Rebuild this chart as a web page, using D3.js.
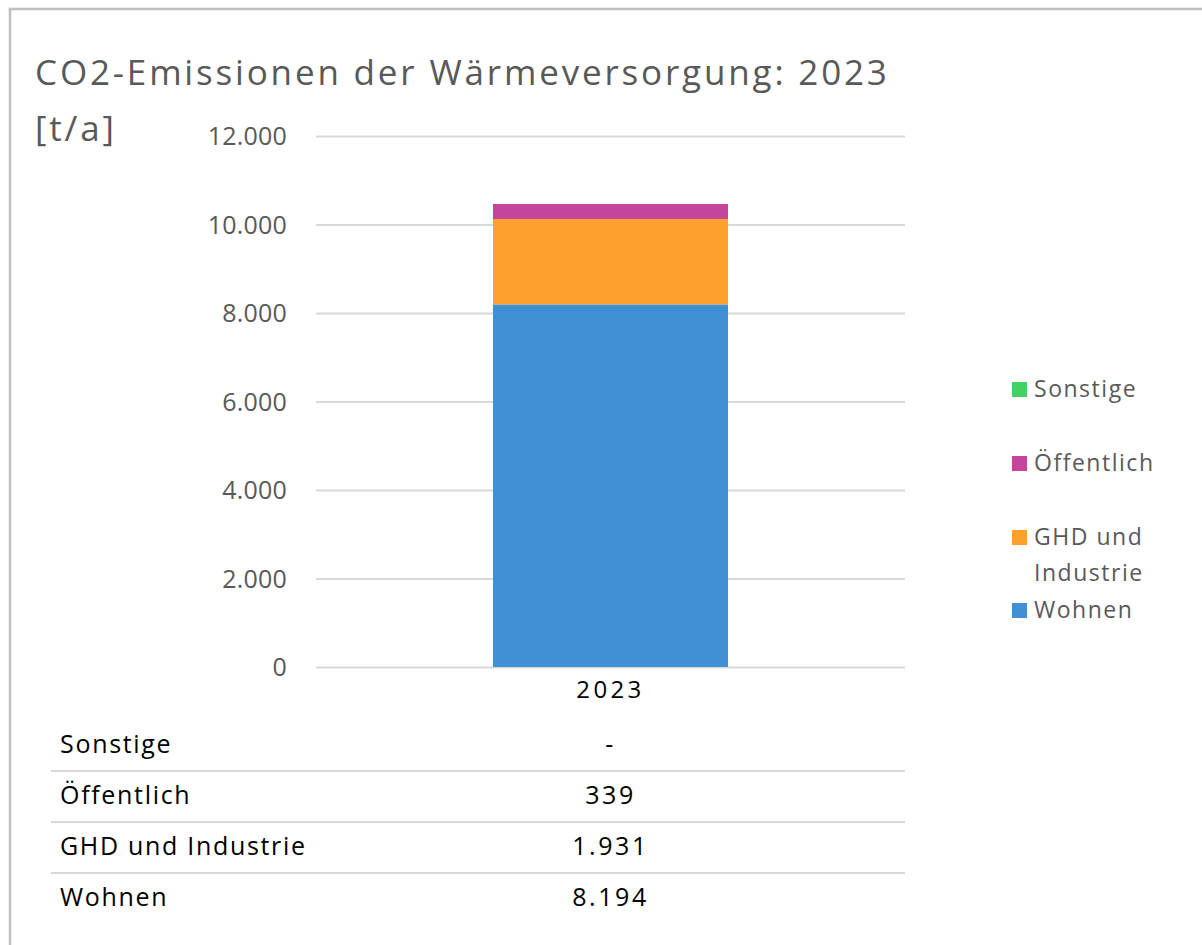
<!DOCTYPE html>
<html><head><meta charset="utf-8">
<script src="https://cdn.jsdelivr.net/npm/d3@7"></script>
<style>
html,body{margin:0;padding:0;background:#fff;}
svg{display:block;}
text{font-family:"Open Sans","Lato",sans-serif;}
</style></head>
<body><svg id="c" width="1202" height="945"></svg>
<script>
const years = ["2023"];
const seriesNames = ["Wohnen","GHD und Industrie","Öffentlich","Sonstige"];
const wohnen = [8194];
const ghd = [1931];
const oeffentlich = [339];
const sonstige = [0];
const tableLabels = ["-","339","1.931","8.194"];
const yTicks = [0,2000,4000,6000,8000,10000,12000];
const colors = ["#4090d6","#ff9f2e","#c4469c","#42d162"];

const svg = d3.select("#c");
// spacing helper: spread letters so a sample text reaches a measured width
function spreadTo(sel, sampleNode, target){
  const w = sampleNode.getComputedTextLength();
  const n = sampleNode.textContent.length;
  const ls = Math.max(0,(target - w)/(n-1));
  sel.style("letter-spacing", ls.toFixed(2)+"px");
}

// frame
svg.append("path").attr("d","M10,945 V9 H1202").attr("fill","none").attr("stroke","#c0c0c0").attr("stroke-width",2.5);

const x0=316, x1=905, yTop=136, yBot=667;
const y = d3.scaleLinear().domain([0,12000]).range([yBot,yTop]);
const x = d3.scaleBand().domain(years).range([x0,x1]).paddingInner(0).paddingOuter(0.753);

const fmt = d => d3.format(",")(d).replace(/,/g,".");

// grid
const yAxis = d3.axisLeft(y).tickValues(yTicks).tickFormat(fmt).tickSize(-(x1-x0)).tickPadding(29);
const ga = svg.append("g").attr("transform",`translate(${x0},0)`).call(yAxis);
ga.select(".domain").remove();
ga.selectAll(".tick line").attr("stroke","#d9d9d9").attr("stroke-width",2);
const tickTexts = ga.selectAll(".tick text").attr("fill","#595959").style("font-size","25px").attr("dy","0.35em");
spreadTo(tickTexts, tickTexts.nodes()[tickTexts.size()-1], 79);

// stacked data
const rows = years.map((yr,i)=>({year:yr,"Wohnen":wohnen[i],"GHD und Industrie":ghd[i],"Öffentlich":oeffentlich[i],"Sonstige":sonstige[i]}));
const stack = d3.stack().keys(seriesNames)(rows);
svg.append("g").selectAll("g").data(stack).join("g").attr("fill",(d,i)=>colors[i])
  .selectAll("rect").data(d=>d).join("rect")
  .attr("x",d=>x(d.data.year)).attr("width",x.bandwidth())
  .attr("y",d=>y(d[1])).attr("height",d=>y(d[0])-y(d[1]));

// x axis label
const xa = d3.axisBottom(x).tickSize(0).tickPadding(14);
const gx = svg.append("g").attr("transform",`translate(0,${yBot})`).call(xa);
gx.select(".domain").remove();
const xt = gx.selectAll("text").attr("fill","#000").style("font-size","24px");
spreadTo(xt, xt.node(), 65);

// title
const t1 = svg.append("text").attr("x",35).attr("y",85).attr("fill","#595959").style("font-size","35px").text("CO2-Emissionen der Wärmeversorgung: 2023");
spreadTo(t1, t1.node(), 852);
const t2 = svg.append("text").attr("x",35).attr("y",141).attr("fill","#595959").style("font-size","35px").text("[t/a]");
t2.style("letter-spacing", t1.style("letter-spacing"));

// legend (reverse order)
const legendItems = [
  {name:"Sonstige", lines:["Sonstige"], c:colors[3], y:389},
  {name:"Öffentlich", lines:["Öffentlich"], c:colors[2], y:463},
  {name:"GHD und Industrie", lines:["GHD und","Industrie"], c:colors[1], y:537},
  {name:"Wohnen", lines:["Wohnen"], c:colors[0], y:610}
];
const lg = svg.append("g");
legendItems.forEach(it=>{
  lg.append("rect").attr("x",1012).attr("y",it.y-7).attr("width",15).attr("height",15).attr("fill",it.c);
  it.lines.forEach((l,j)=>{
    lg.append("text").attr("class","lgt").attr("x",1034).attr("y",it.y+j*36).attr("dy","0.35em").attr("fill","#595959").style("font-size","23px").text(l);
  });
});
const lgt = lg.selectAll(".lgt");
spreadTo(lgt, lgt.nodes()[1], 119);

// data table
const tableRows = ["Sonstige","Öffentlich","GHD und Industrie","Wohnen"];
const rowY = [744,795,846,897];
const tg = svg.append("g");
tableRows.forEach((r,i)=>{
  tg.append("text").attr("class","tl").attr("x",60).attr("y",rowY[i]).attr("dy","0.35em").attr("fill","#000").style("font-size","25px").text(r);
  tg.append("text").attr("class","tv").attr("x",x(years[0])+x.bandwidth()/2).attr("y",rowY[i]).attr("dy","0.35em").attr("text-anchor","middle").attr("fill","#000").style("font-size","25px").text(tableLabels[i]);
  if(i<3) tg.append("line").attr("x1",51).attr("x2",x1).attr("y1",rowY[i]+27).attr("y2",rowY[i]+27).attr("stroke","#d9d9d9").attr("stroke-width",2);
});
const tl = tg.selectAll(".tl"); spreadTo(tl, tl.nodes()[2], 245);
const tv = tg.selectAll(".tv"); spreadTo(tv, tv.nodes()[3], 74);
</script></body></html>
